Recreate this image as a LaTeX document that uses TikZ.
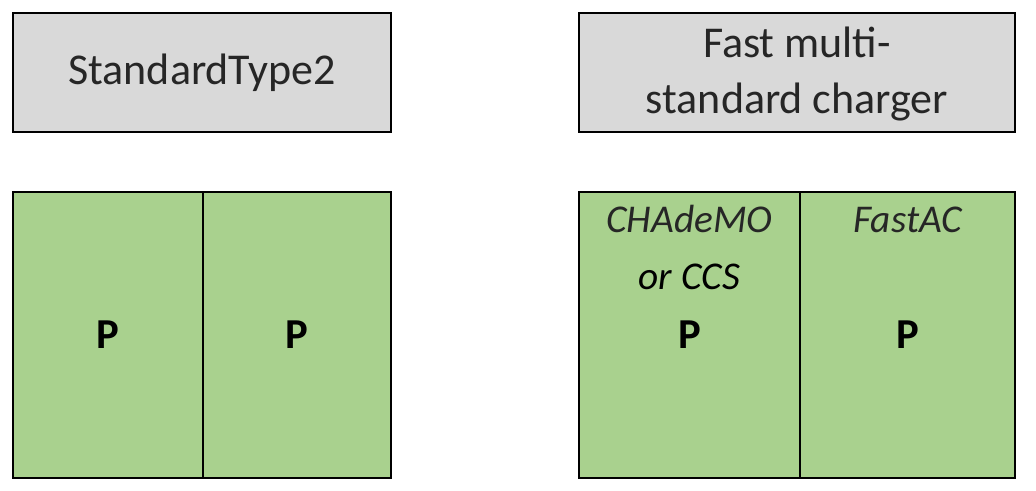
\documentclass[tikz,border=0pt]{standalone}
\usepackage{fontspec}
\setmainfont{Carlito}
\definecolor{hdrgray}{HTML}{D9D9D9}
\definecolor{cellgreen}{HTML}{A9D18E}
\definecolor{txtdark}{HTML}{262626}
\begin{document}
\begin{tikzpicture}[x=0.75pt,y=-0.75pt,
  hdrbox/.style={draw=black,line width=1.5pt,fill=hdrgray,inner sep=0pt,anchor=north west},
  cellbox/.style={draw=black,line width=1.5pt,fill=cellgreen,inner sep=0pt,anchor=north west},
  hdrtext/.style={text=txtdark,font=\fontsize{33}{41.5}\selectfont,align=center},
  lbltext/.style={font=\fontsize{29.5}{34}\itshape,anchor=base},
  ptext/.style={font=\fontsize{32}{38}\selectfont\bfseries,anchor=base}]
\useasboundingbox (0,0) rectangle (1036,491);
% headers
\node[hdrbox,minimum width=378*0.75pt,minimum height=119.5*0.75pt] (h1) at (12,12) {};
\node[hdrbox,minimum width=436*0.75pt,minimum height=119.5*0.75pt] (h2) at (578,12) {};
\node[hdrtext] (h1t) at (h1.center) {StandardType2};
\node[hdrtext] (h2t) at ([yshift=-1pt]h2.center) {Fast multi-\\standard charger};
% cells
\node[cellbox,minimum width=190*0.75pt,minimum height=286.5*0.75pt] (c1) at (12,191) {};
\node[cellbox,minimum width=188*0.75pt,minimum height=286.5*0.75pt] (c2) at (202,191) {};
\node[cellbox,minimum width=221*0.75pt,minimum height=286.5*0.75pt] (c3) at (578,191) {};
\node[cellbox,minimum width=215*0.75pt,minimum height=286.5*0.75pt] (c4) at (799,191) {};
% labels
\node[lbltext,text=txtdark] (l1) at (c3.center |- 0,233) {CHAdeMO};
\node[lbltext,text=black] (l2) at (c3.center |- 0,290) {or CCS};
\node[lbltext,text=txtdark] (l3) at (c4.center |- 0,233) {FastAC};
\node[ptext] (p1) at (c1.center |- 0,349) {P};
\node[ptext] (p2) at (c2.center |- 0,349) {P};
\node[ptext] (p3) at (c3.center |- 0,349) {P};
\node[ptext] (p4) at (c4.center |- 0,349) {P};
\end{tikzpicture}
\end{document}
